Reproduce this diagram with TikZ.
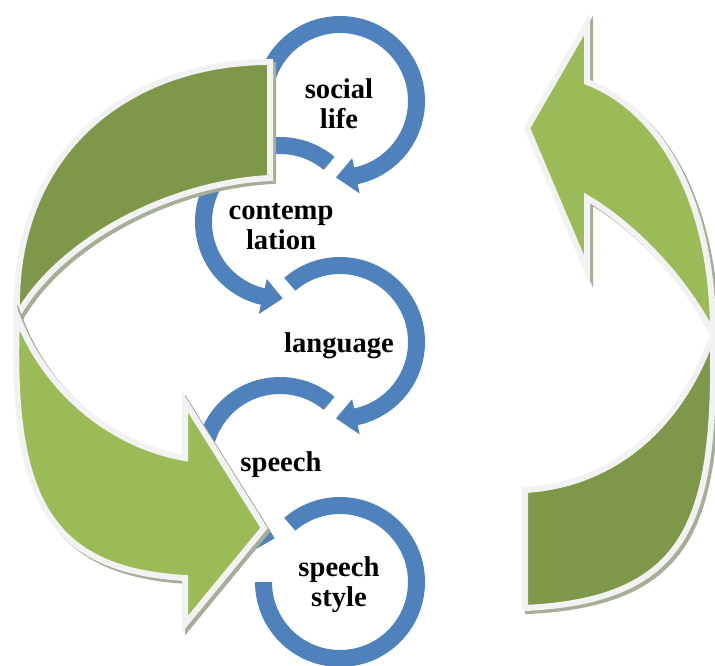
\documentclass[tikz,border=0pt]{standalone}
\usepackage{fontspec}
\setmainfont{Liberation Serif}

\definecolor{azulflecha}{RGB}{79,129,189}
\definecolor{verdeclaro}{RGB}{155,187,89}
\definecolor{verdeoscuro}{RGB}{127,151,72}
\definecolor{bordegris}{RGB}{242,242,242}
\definecolor{sombraverde}{RGB}{165,174,150}

% Flecha circular: centro, angulo inicial, base de la punta, punta
\newcommand{\flechacirc}[4]{%
  \fill[flechaazul, shift={(#1)}] (#2:85) arc[start angle=#2, end angle=#3, radius=85]
    -- (#3:94.5) -- (#4:76.5) -- (#3:58.5) -- (#3:68)
    arc[start angle=#3, end angle=#2, radius=68] -- cycle;}

\tikzset{
  flechaazul/.style={fill=azulflecha},
  sombra/.style={fill=sombraverde, draw=sombraverde, line width=6pt,
    transform canvas={shift={(3,3)}}},
  bandaoscura/.style={fill=verdeoscuro, draw=bordegris, line width=6pt, preaction={sombra}},
  bandaclara/.style={fill=verdeclaro, draw=bordegris, line width=6pt, preaction={sombra}},
  texto/.style={font=\bfseries\fontsize{28.6}{30}\selectfont, align=center}
}

\begin{document}
\begin{tikzpicture}[x=1pt, y=-1pt]
    \clip (0,0) rectangle (715,666);

    % Centros de los ciclos
    \coordinate (c1) at (340,101);
    \coordinate (c2) at (280,222);
    \coordinate (c3) at (340,342);
    \coordinate (c4) at (280,462);
    \coordinate (c5) at (340,582);

    % Flechas circulares azules
    \flechacirc{c1}{-180}{78}{93}
    \flechacirc{c2}{-50}{-257}{-272}
    \flechacirc{c3}{-131}{78}{93}
    \flechacirc{c4}{-50}{-252}{-266}
    \fill[flechaazul, shift={(c5)}] (-131:85) arc[start angle=-131, end angle=180, radius=85]
        -- (180:68) arc[start angle=180, end angle=-131, radius=68] -- cycle;

    % Flecha verde izquierda (parte trasera y delantera)
    \path[bandaoscura] (270,62) -- (270,178) .. controls (170,183) and (60,240) .. (17,316)
        .. controls (12,150) and (130,62) .. (270,62) -- cycle;
    \path[bandaclara] (17,316) .. controls (10,500) and (50,570) .. (185,578)
        -- (185,624) -- (264,528) -- (185,402) -- (185,458)
        .. controls (110,445) and (45,390) .. (17,316) -- cycle;

    % Flecha verde derecha
    \path[bandaoscura] (713,334) .. controls (716,520) and (690,600) .. (525,608)
        -- (525,490) .. controls (610,485) and (680,430) .. (713,334) -- cycle;
    \path[bandaclara] (587,82) -- (587,24) -- (527,128) -- (587,270) -- (587,198)
        .. controls (625,220) and (680,270) .. (713,334)
        .. controls (713,200) and (660,110) .. (587,82) -- cycle;

    % Etiquetas
    \node[texto] (vida) at (339,104) {social\\life};
    \node[texto] (contemplacion) at (281,227) {contemp\\lation};
    \node[texto] (lenguaje) at (339,346) {language};
    \node[texto] (habla) at (281,465) {speech};
    \node[texto] (estilo) at (339,585) {speech\\style};
\end{tikzpicture}
\end{document}
